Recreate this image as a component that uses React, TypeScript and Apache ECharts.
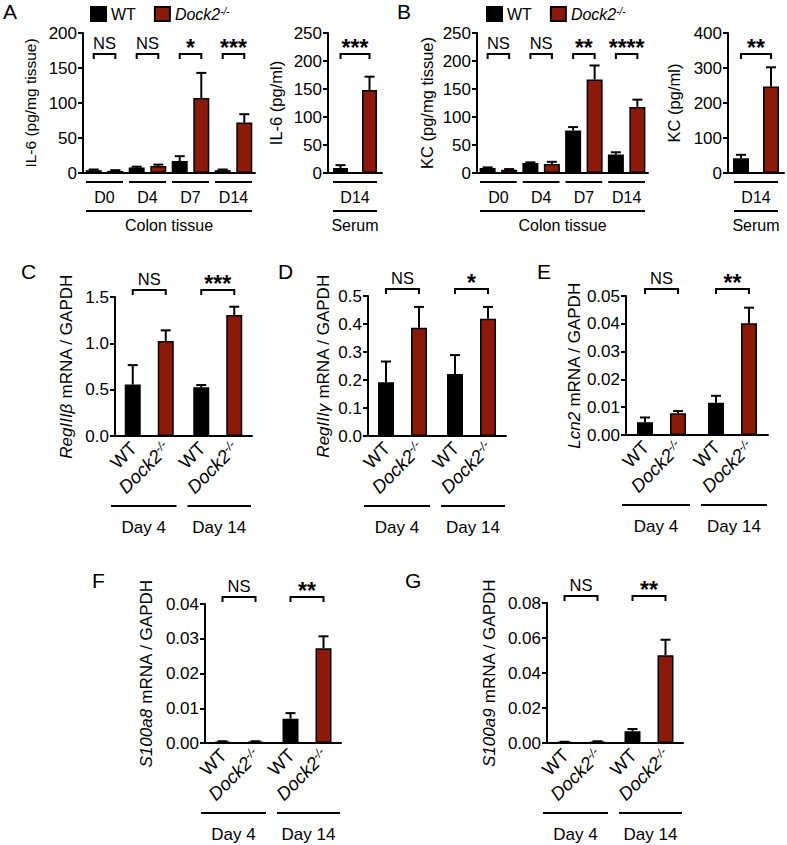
import React, { useEffect, useRef } from 'react';
import * as echarts from 'echarts';

// ---------- data ----------
const colonDays = ['D0', 'D4', 'D7', 'D14'];
const serumDays = ['D14'];
const mrnaDays = ['Day 4', 'Day 14'];

const il6TissueWT = [4, 8, 17, 4];
const il6TissueWTsem = [1, 1, 7, 1];
const il6TissueKO = [3, 10, 107, 72];
const il6TissueKOsem = [1, 2, 36, 12];
const il6TissueSig = ['NS', 'NS', '*', '***'];

const il6SerumWT = [9];
const il6SerumWTsem = [5];
const il6SerumKO = [148];
const il6SerumKOsem = [24];
const il6SerumSig = ['***'];

const kcTissueWT = [9, 18, 76, 33];
const kcTissueWTsem = [1, 1, 6, 4];
const kcTissueKO = [6, 16, 167, 118];
const kcTissueKOsem = [1, 4, 25, 13];
const kcTissueSig = ['NS', 'NS', '**', '****'];

const kcSerumWT = [42];
const kcSerumWTsem = [10];
const kcSerumKO = [247];
const kcSerumKOsem = [55];
const kcSerumSig = ['**'];

const reg3bWT = [0.555, 0.525];
const reg3bWTsem = [0.21, 0.025];
const reg3bKO = [1.025, 1.305];
const reg3bKOsem = [0.115, 0.09];
const reg3bSig = ['NS', '***'];

const reg3gWT = [0.192, 0.221];
const reg3gWTsem = [0.074, 0.068];
const reg3gKO = [0.387, 0.419];
const reg3gKOsem = [0.074, 0.042];
const reg3gSig = ['NS', '*'];

const lcn2WT = [0.0046, 0.0116];
const lcn2WTsem = [0.0017, 0.0025];
const lcn2KO = [0.0078, 0.0402];
const lcn2KOsem = [0.0008, 0.0056];
const lcn2Sig = ['NS', '**'];

const s100a8WT = [0.0004, 0.007];
const s100a8WTsem = [0.0001, 0.0016];
const s100a8KO = [0.0004, 0.0273];
const s100a8KOsem = [0.0001, 0.0034];
const s100a8Sig = ['NS', '**'];

const s100a9WT = [0.0005, 0.0067];
const s100a9WTsem = [0.0002, 0.0013];
const s100a9KO = [0.0008, 0.0502];
const s100a9KOsem = [0.0002, 0.0088];
const s100a9Sig = ['NS', '**'];

// ---------- styling / layout ----------
const FONT = "'Liberation Sans', Arial, Helvetica, sans-serif";
const RED = '#8c1a0b';
const BLACK = '#000000';

type Panel = {
  cats: string[];
  wt: number[];
  wtSem: number[];
  ko: number[];
  koSem: number[];
  sig: string[];
  max: number;
  interval: number;
  dec: number;
  yName: string;
  nameGap: number;
  nameSize: number;
  mode: 'cyto' | 'mrna';
  groupName?: string;
  grid: { left: number; top: number; width: number; height: number };
  barWidth: number;
  pitch: number;
  bracketOffset: number;
  underInset?: number;
};

const panels: Panel[] = [
  {
    cats: colonDays, wt: il6TissueWT, wtSem: il6TissueWTsem, ko: il6TissueKO, koSem: il6TissueKOsem,
    sig: il6TissueSig, max: 200, interval: 50, dec: 0, yName: 'IL-6 (pg/mg tissue)', nameGap: 45, nameSize: 15.5,
    mode: 'cyto', groupName: 'Colon tissue', grid: { left: 83, top: 33, width: 172, height: 140 },
    barWidth: 16, pitch: 21.6, bracketOffset: 21, underInset: 3,
  },
  {
    cats: serumDays, wt: il6SerumWT, wtSem: il6SerumWTsem, ko: il6SerumKO, koSem: il6SerumKOsem,
    sig: il6SerumSig, max: 250, interval: 50, dec: 0, yName: 'IL-6 (pg/ml)', nameGap: 44, nameSize: 16.5,
    mode: 'cyto', groupName: 'Serum', grid: { left: 328, top: 33, width: 54, height: 140 },
    barWidth: 15, pitch: 29, bracketOffset: 21, underInset: 5,
  },
  {
    cats: colonDays, wt: kcTissueWT, wtSem: kcTissueWTsem, ko: kcTissueKO, koSem: kcTissueKOsem,
    sig: kcTissueSig, max: 250, interval: 50, dec: 0, yName: 'KC (pg/mg tissue)', nameGap: 42, nameSize: 16.5,
    mode: 'cyto', groupName: 'Colon tissue', grid: { left: 477, top: 33, width: 171, height: 140 },
    barWidth: 16, pitch: 21.5, bracketOffset: 21, underInset: 3,
  },
  {
    cats: serumDays, wt: kcSerumWT, wtSem: kcSerumWTsem, ko: kcSerumKO, koSem: kcSerumKOsem,
    sig: kcSerumSig, max: 400, interval: 100, dec: 0, yName: 'KC (pg/ml)', nameGap: 46, nameSize: 16.5,
    mode: 'cyto', groupName: 'Serum', grid: { left: 728, top: 33, width: 56, height: 140 },
    barWidth: 16, pitch: 30, bracketOffset: 21, underInset: 6,
  },
  {
    cats: mrnaDays, wt: reg3bWT, wtSem: reg3bWTsem, ko: reg3bKO, koSem: reg3bKOsem,
    sig: reg3bSig, max: 1.5, interval: 0.5, dec: 1, yName: '{g|RegIIIβ} mRNA / GAPDH', nameGap: 40, nameSize: 17,
    mode: 'mrna', grid: { left: 115, top: 297, width: 137, height: 139 },
    barWidth: 16, pitch: 33, bracketOffset: -7,
  },
  {
    cats: mrnaDays, wt: reg3gWT, wtSem: reg3gWTsem, ko: reg3gKO, koSem: reg3gKOsem,
    sig: reg3gSig, max: 0.5, interval: 0.1, dec: 1, yName: '{g|RegIIIγ} mRNA / GAPDH', nameGap: 36, nameSize: 17,
    mode: 'mrna', grid: { left: 368, top: 296, width: 138, height: 140 },
    barWidth: 16, pitch: 33, bracketOffset: -7,
  },
  {
    cats: mrnaDays, wt: lcn2WT, wtSem: lcn2WTsem, ko: lcn2KO, koSem: lcn2KOsem,
    sig: lcn2Sig, max: 0.05, interval: 0.01, dec: 2, yName: '{g|Lcn2} mRNA / GAPDH', nameGap: 36, nameSize: 17,
    mode: 'mrna', grid: { left: 626, top: 296, width: 142, height: 139 },
    barWidth: 16, pitch: 33, bracketOffset: -7,
  },
  {
    cats: mrnaDays, wt: s100a8WT, wtSem: s100a8WTsem, ko: s100a8KO, koSem: s100a8KOsem,
    sig: s100a8Sig, max: 0.04, interval: 0.01, dec: 2, yName: '{g|S100a8} mRNA / GAPDH', nameGap: 50, nameSize: 17,
    mode: 'mrna', grid: { left: 205, top: 604, width: 136, height: 139 },
    barWidth: 16, pitch: 33, bracketOffset: -7,
  },
  {
    cats: mrnaDays, wt: s100a9WT, wtSem: s100a9WTsem, ko: s100a9KO, koSem: s100a9KOsem,
    sig: s100a9Sig, max: 0.08, interval: 0.02, dec: 2, yName: '{g|S100a9} mRNA / GAPDH', nameGap: 49, nameSize: 17,
    mode: 'mrna', grid: { left: 547, top: 603, width: 136, height: 140 },
    barWidth: 16, pitch: 33, bracketOffset: -7,
  },
];

const panelLetters = [
  { t: 'A', x: 3, y: 1 },
  { t: 'B', x: 397, y: 1 },
  { t: 'C', x: 21, y: 261 },
  { t: 'D', x: 278, y: 261 },
  { t: 'E', x: 537, y: 261 },
  { t: 'F', x: 92, y: 570 },
  { t: 'G', x: 405, y: 570 },
];

const ROT = 18.5;
const koRich = {
  i: { fontStyle: 'italic', fontSize: ROT, fontFamily: FONT, fill: BLACK, color: BLACK },
  s: { fontStyle: 'italic', fontSize: 12, fontFamily: FONT, verticalAlign: 'top', fill: BLACK, color: BLACK },
};

function makeRender(p: Panel) {
  return (params: any, api: any) => {
    const i = api.value(0) as number;
    const wtM = api.value(1) as number;
    const wtS = api.value(2) as number;
    const koM = api.value(3) as number;
    const koS = api.value(4) as number;
    const base = api.coord([i, 0]);
    const cx = base[0];
    const ay = base[1];
    const catW = api.size([1, 0])[0];
    const gridTop = api.coord([i, p.max])[1];
    const half = p.pitch / 2;
    const xW = cx - half;
    const xK = cx + half;
    const ln = { stroke: BLACK, lineWidth: 2, fill: 'none' };
    const ch: any[] = [];
    const addErr = (x: number, m: number, s: number) => {
      const y0 = api.coord([i, m])[1];
      const y1 = api.coord([i, m + s])[1];
      ch.push({ type: 'line', shape: { x1: x, y1: y0, x2: x, y2: y1 }, style: ln });
      ch.push({ type: 'line', shape: { x1: x - 5, y1: y1, x2: x + 5, y2: y1 }, style: ln });
    };
    addErr(xW, wtM, wtS);
    addErr(xK, koM, koS);
    const by = gridTop + p.bracketOffset;
    ch.push({
      type: 'polyline',
      shape: { points: [[xW, by + 5], [xW, by], [xK, by], [xK, by + 5]] },
      style: ln,
    });
    const s = p.sig[i];
    const star = s.indexOf('*') >= 0;
    ch.push({
      type: 'text', x: cx, y: star ? by - 6 : by - 11,
      style: {
        text: s, fontSize: star ? 23 : 16.5, fontWeight: star ? 'bold' : 'normal', fontFamily: FONT,
        align: 'center', verticalAlign: 'middle', fill: BLACK,
      },
    });
    if (p.mode === 'cyto') {
      const inset = p.underInset || 3;
      ch.push({ type: 'line', shape: { x1: cx - catW / 2 + inset, y1: ay + 9, x2: cx + catW / 2 - inset, y2: ay + 9 }, style: ln });
      ch.push({
        type: 'text', x: cx, y: ay + 24,
        style: { text: p.cats[i], fontSize: 16, fontFamily: FONT, align: 'center', verticalAlign: 'middle', fill: BLACK },
      });
      if (i === 0) {
        const n = p.cats.length;
        const left = cx - catW / 2 + inset;
        const right = api.coord([n - 1, 0])[0] + catW / 2 - inset;
        ch.push({ type: 'line', shape: { x1: left, y1: ay + 38, x2: right, y2: ay + 38 }, style: ln });
        ch.push({
          type: 'text', x: (left + right) / 2, y: ay + 52,
          style: { text: p.groupName, fontSize: 16, fontFamily: FONT, align: 'center', verticalAlign: 'middle', fill: BLACK },
        });
      }
    } else {
      ch.push({
        type: 'text', x: xW + 1, y: ay + 9, rotation: Math.PI / 4,
        style: { text: 'WT', fontSize: ROT, fontFamily: FONT, align: 'right', verticalAlign: 'middle', fill: BLACK },
      });
      ch.push({
        type: 'text', x: xK + 1, y: ay + 9, rotation: Math.PI / 4,
        style: { text: '{i|Dock2}{s|-/-}', rich: koRich, fontSize: ROT, fontFamily: FONT, align: 'right', verticalAlign: 'middle', fill: BLACK },
      });
      const l = i === 0 ? cx - catW / 2 - 4 : cx - catW / 2 + 4;
      const r = i === 0 ? cx + catW / 2 - 7 : cx + catW / 2 - 1;
      ch.push({ type: 'line', shape: { x1: l, y1: ay + 70, x2: r, y2: ay + 70 }, style: ln });
      ch.push({
        type: 'text', x: (l + r) / 2, y: ay + 91,
        style: { text: p.cats[i], fontSize: 17, fontFamily: FONT, align: 'center', verticalAlign: 'middle', fill: BLACK },
      });
    }
    return { type: 'group', children: ch };
  };
}

function buildOption() {
  const grid: any[] = [];
  const xAxis: any[] = [];
  const yAxis: any[] = [];
  const series: any[] = [];
  panels.forEach((p, k) => {
    grid.push({ ...p.grid, containLabel: false, outerBoundsMode: 'none' });
    xAxis.push({
      type: 'category', gridIndex: k, data: p.cats,
      axisLine: { show: true, lineStyle: { color: BLACK, width: 2 } },
      axisTick: { show: false }, axisLabel: { show: false }, splitLine: { show: false },
    });
    yAxis.push({
      type: 'value', gridIndex: k, min: 0, max: p.max, interval: p.interval,
      axisLine: { show: true, lineStyle: { color: BLACK, width: 2 } },
      axisTick: { show: true, length: 5, lineStyle: { color: BLACK, width: 2 } },
      splitLine: { show: false },
      axisLabel: {
        color: BLACK, fontSize: 17, fontFamily: FONT, margin: 6,
        formatter: (v: number) => v.toFixed(p.dec),
      },
      name: p.yName, nameLocation: 'middle', nameGap: p.nameGap,
      nameTextStyle: {
        color: BLACK, fontSize: p.nameSize, fontFamily: FONT,
        rich: { g: { fontStyle: 'italic', fontSize: p.nameSize, fontFamily: FONT, color: BLACK } },
      },
    });
    const gapPct = ((p.pitch - p.barWidth) / p.barWidth) * 100 + '%';
    series.push({
      type: 'bar', name: 'WT', xAxisIndex: k, yAxisIndex: k, data: p.wt,
      barWidth: p.barWidth, barGap: gapPct, silent: true,
      itemStyle: { color: BLACK, borderColor: BLACK, borderWidth: 1.5 },
    });
    series.push({
      type: 'bar', name: 'Dock2', xAxisIndex: k, yAxisIndex: k, data: p.ko,
      barWidth: p.barWidth, barGap: gapPct, silent: true,
      itemStyle: { color: RED, borderColor: BLACK, borderWidth: 1.5 },
    });
    series.push({
      type: 'custom', xAxisIndex: k, yAxisIndex: k, clip: false, silent: true, z: 5,
      data: p.cats.map((_, i) => [i, p.wt[i], p.wtSem[i], p.ko[i], p.koSem[i]]),
      encode: { x: 0, y: 1 },
      renderItem: makeRender(p),
    });
  });

  const legendBase = {
    data: ['WT', 'Dock2'], icon: 'rect', itemWidth: 15, itemHeight: 14, itemGap: 18,
    selectedMode: false, orient: 'horizontal', padding: 0,
    textStyle: {
      color: BLACK, fontSize: 16, fontFamily: FONT,
      rich: {
        i: { fontStyle: 'italic', fontSize: 16, fontFamily: FONT, color: BLACK },
        s: { fontStyle: 'italic', fontSize: 10, fontFamily: FONT, color: BLACK, verticalAlign: 'top' },
      },
    },
    formatter: (n: string) => (n === 'Dock2' ? '{i|Dock2}{s|-/-}' : n),
  };

  return {
    animation: false,
    backgroundColor: '#ffffff',
    grid, xAxis, yAxis, series,
    legend: [
      { ...legendBase, left: 90, top: 6 },
      { ...legendBase, left: 486, top: 6 },
    ],
    graphic: panelLetters.map((l) => ({
      type: 'text', x: l.x, y: l.y, silent: true,
      style: { text: l.t, fontSize: 21, fontFamily: FONT, fill: BLACK, align: 'left', verticalAlign: 'top' },
    })),
  };
}

export default function App() {
  const ref = useRef<HTMLDivElement>(null);
  useEffect(() => {
    if (!ref.current) return;
    const chart = echarts.init(ref.current, undefined, { renderer: 'svg' });
    chart.setOption(buildOption() as any);
    return () => chart.dispose();
  }, []);
  return (
    <div
      ref={ref}
      style={{ position: 'fixed', left: 0, top: 0, width: 787, height: 845, background: '#fff' }}
    />
  );
}
